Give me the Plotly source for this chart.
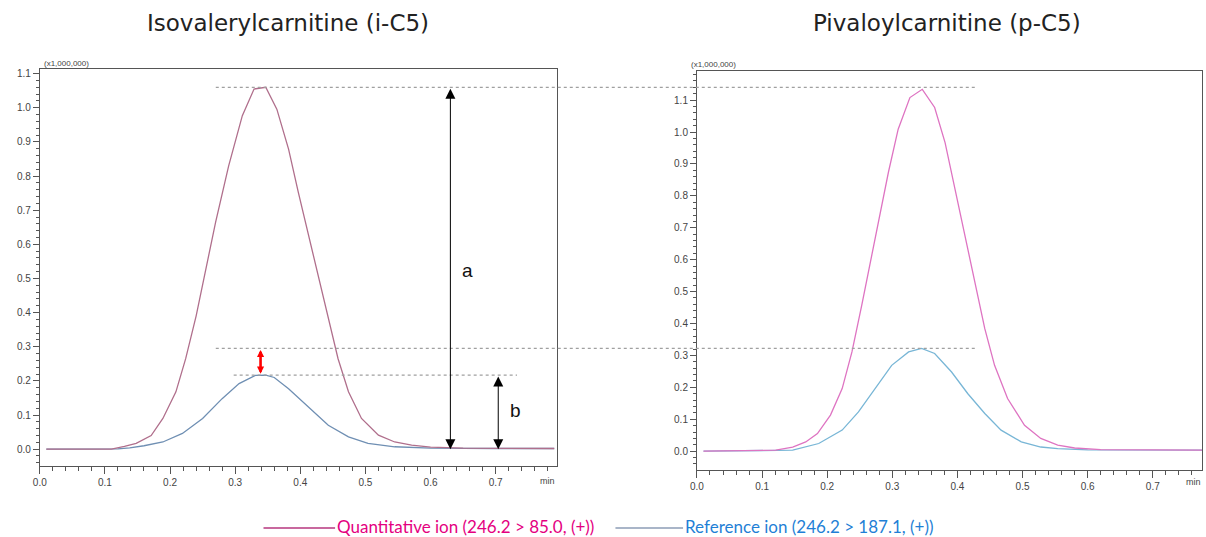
import plotly.graph_objects as go

# ---------------- data (intensity x1,000,000 vs time, min) ----------------
iso_quant_t = [0.01, 0.11, 0.13, 0.148, 0.171, 0.189, 0.209, 0.224, 0.24, 0.255, 0.27, 0.29, 0.311,
               0.329, 0.347, 0.364, 0.382, 0.397, 0.413, 0.428, 0.443, 0.458, 0.474, 0.494,
               0.52, 0.545, 0.571, 0.60, 0.65, 0.72, 0.79]
iso_quant_v = [0.0, 0.0, 0.008, 0.017, 0.04, 0.09, 0.168, 0.265, 0.39, 0.53, 0.665, 0.83, 0.977,
               1.055, 1.06, 0.996, 0.879, 0.752, 0.626, 0.499, 0.382, 0.265, 0.168, 0.09,
               0.041, 0.021, 0.012, 0.006, 0.003, 0.002, 0.002]
iso_ref_t = [0.01, 0.12, 0.138, 0.16, 0.189, 0.219, 0.25, 0.28, 0.306, 0.331, 0.347, 0.36,
             0.382, 0.413, 0.443, 0.474, 0.504, 0.545, 0.60, 0.70, 0.79]
iso_ref_v = [0.0, 0.001, 0.004, 0.01, 0.021, 0.046, 0.09, 0.148, 0.192, 0.216, 0.217, 0.21,
             0.177, 0.124, 0.07, 0.036, 0.017, 0.007, 0.003, 0.002, 0.002]

piv_quant_t = [0.01, 0.121, 0.147, 0.167, 0.185, 0.205, 0.223, 0.238, 0.253, 0.266, 0.279, 0.294,
               0.309, 0.327, 0.346, 0.365, 0.381, 0.396, 0.411, 0.426, 0.442, 0.457, 0.477,
               0.503, 0.528, 0.554, 0.58, 0.62, 0.70, 0.78]
piv_quant_v = [0.0, 0.003, 0.013, 0.029, 0.055, 0.113, 0.196, 0.311, 0.457, 0.592, 0.728, 0.874,
               1.009, 1.108, 1.134, 1.077, 0.967, 0.822, 0.676, 0.53, 0.384, 0.269, 0.165,
               0.081, 0.04, 0.019, 0.01, 0.005, 0.003, 0.003]
piv_ref_t = [0.01, 0.13, 0.147, 0.187, 0.223, 0.248, 0.274, 0.299, 0.325, 0.345, 0.365, 0.391,
             0.416, 0.442, 0.467, 0.498, 0.528, 0.554, 0.60, 0.70, 0.78]
piv_ref_v = [0.0, 0.001, 0.003, 0.024, 0.066, 0.123, 0.196, 0.269, 0.311, 0.322, 0.306, 0.248,
             0.18, 0.118, 0.066, 0.029, 0.013, 0.008, 0.004, 0.003, 0.003]

titles = ["Isovalerylcarnitine (i-C5)", "Pivaloylcarnitine (p-C5)"]
legend_names = ["Quantitative ion (246.2 &gt; 85.0, (+))", "Reference ion (246.2 &gt; 187.1, (+))"]

# ---------------- figure ----------------
fig = go.Figure()
fig.add_trace(go.Scatter(x=iso_ref_t, y=iso_ref_v, mode="lines", xaxis="x", yaxis="y",
                         line=dict(color="#6f8fb3", width=1.3), name=legend_names[1]))
fig.add_trace(go.Scatter(x=iso_quant_t, y=iso_quant_v, mode="lines", xaxis="x", yaxis="y",
                         line=dict(color="#b06f8c", width=1.3), name=legend_names[0]))
fig.add_trace(go.Scatter(x=piv_ref_t, y=piv_ref_v, mode="lines", xaxis="x2", yaxis="y2",
                         line=dict(color="#78b6d6", width=1.3), name=legend_names[1]))
fig.add_trace(go.Scatter(x=piv_quant_t, y=piv_quant_v, mode="lines", xaxis="x2", yaxis="y2",
                         line=dict(color="#de74c2", width=1.3), name=legend_names[0]))

axis_common = dict(showgrid=False, zeroline=False, showline=True, linecolor="#555555",
                   linewidth=1, mirror=True, ticks="outside", tickcolor="#555555",
                   tickwidth=1, tickformat=".1f", dtick=0.1, tick0=0,
                   tickfont=dict(family="Liberation Sans, Arial", size=10, color="#444444"))

xa = dict(axis_common, ticklen=7,
          minor=dict(dtick=0.02, ticks="outside", ticklen=4, tickcolor="#555555"))
ya = dict(axis_common, ticklen=6,
          minor=dict(dtick=0.02, ticks="outside", ticklen=3, tickcolor="#555555"))

fig.update_layout(
    width=1206, height=537, margin=dict(l=0, r=0, t=0, b=0),
    paper_bgcolor="white", plot_bgcolor="white", showlegend=False,
    xaxis=dict(xa, domain=[33 / 1206, 553 / 1206], range=[0, 0.7939], anchor="y"),
    yaxis=dict(ya, domain=[1 - 466 / 537, 1 - 68 / 537], range=[-0.0497, 1.114], anchor="x"),
    xaxis2=dict(xa, domain=[694 / 1206, 1202 / 1206], range=[0, 0.7756], anchor="y2"),
    yaxis2=dict(ya, domain=[1 - 470 / 537, 1 - 70 / 537], range=[-0.0594, 1.1917], anchor="x2"),
)

iso_q_peak = max(iso_quant_v)
iso_r_peak = max(iso_ref_v)
piv_r_peak = max(piv_ref_v)
iso_peak_t = iso_quant_t[iso_quant_v.index(iso_q_peak)]
# level of the pivaloyl reference peak expressed on the left axis (drawn line at same height)
piv_r_level_left = 0.295

dash = dict(color="#a0a0a0", width=1.2, dash="dot")
shapes = [
    dict(type="line", xref="paper", yref="y", x0=210 / 1206, x1=975 / 1206,
         y0=iso_q_peak, y1=iso_q_peak, line=dash),
    dict(type="line", xref="paper", yref="y2", x0=210 / 1206, x1=975 / 1206,
         y0=piv_r_peak, y1=piv_r_peak, line=dash),
    dict(type="line", xref="paper", yref="y", x0=228 / 1206, x1=513 / 1206,
         y0=iso_r_peak, y1=iso_r_peak, line=dash),
    # legend samples
    dict(type="line", xref="paper", yref="paper", x0=258 / 1206, x1=330 / 1206,
         y0=1 - 528 / 537, y1=1 - 528 / 537, line=dict(color="#c8689e", width=2)),
    dict(type="line", xref="paper", yref="paper", x0=612 / 1206, x1=680 / 1206,
         y0=1 - 528 / 537, y1=1 - 528 / 537, line=dict(color="#a9b5c8", width=2)),
]
fig.update_layout(shapes=shapes)

ann = []
# arrows
ann.append(dict(xref="x", yref="y", axref="x", ayref="y", x=0.6305, y=0, ax=0.6305, ay=iso_q_peak,
                text="", showarrow=True, arrowhead=2, arrowside="end+start", arrowsize=2,
                arrowwidth=1, arrowcolor="#000000"))
ann.append(dict(xref="x", yref="y", axref="x", ayref="y", x=0.704, y=0, ax=0.704, ay=iso_r_peak,
                text="", showarrow=True, arrowhead=2, arrowside="end+start", arrowsize=2,
                arrowwidth=1, arrowcolor="#000000"))
ann.append(dict(xref="x", yref="y", axref="x", ayref="y", x=iso_peak_t - 0.008, y=iso_r_peak + 0.004,
                ax=iso_peak_t - 0.008, ay=piv_r_level_left,
                text="", showarrow=True, arrowhead=2, arrowside="end+start", arrowsize=0.55,
                arrowwidth=2.6, arrowcolor="#ff0000"))
ann.append(dict(xref="x", yref="y", x=0.657, y=0.523, text="a", showarrow=False,
                font=dict(family="Liberation Sans, Arial", size=19, color="#111111")))
ann.append(dict(xref="x", yref="y", x=0.731, y=0.114, text="b", showarrow=False,
                font=dict(family="Liberation Sans, Arial", size=19, color="#111111")))
# titles
ann.append(dict(xref="paper", yref="paper", x=283 / 1206, y=1 - 22 / 537, text=titles[0],
                xanchor="center", yanchor="middle",
                showarrow=False, font=dict(family="DejaVu Sans", size=23, color="#222222")))
ann.append(dict(xref="paper", yref="paper", x=945 / 1206, y=1 - 22 / 537, text=titles[1],
                xanchor="center", yanchor="middle",
                showarrow=False, font=dict(family="DejaVu Sans", size=23, color="#222222")))
# scale labels
small = dict(family="Liberation Sans, Arial", size=8, color="#444444")
for xp, yp in [(35, 63), (686, 64)]:
    ann.append(dict(xref="paper", yref="paper", x=xp / 1206, y=1 - yp / 537, text="(x1,000,000)",
                    showarrow=False, xanchor="left", yanchor="middle", font=small))
for xp, yp in [(553, 481), (1203, 482)]:
    ann.append(dict(xref="paper", yref="paper", x=xp / 1206, y=1 - yp / 537, text="min",
                    showarrow=False, xanchor="right", yanchor="middle", font=dict(small, size=9)))
# legend texts
ann.append(dict(xref="paper", yref="paper", x=331 / 1206, y=1 - 526 / 537, xanchor="left",
                yanchor="middle", text=legend_names[0], showarrow=False, borderpad=0,
                font=dict(family="Lato", size=17, color="#e4007f")))
ann.append(dict(xref="paper", yref="paper", x=681 / 1206, y=1 - 526 / 537, xanchor="left",
                yanchor="middle", text=legend_names[1], showarrow=False, borderpad=0,
                font=dict(family="Lato", size=17, color="#1f7fd6")))
fig.update_layout(annotations=ann)

fig.write_html("out.html", config={"displayModeBar": False},
               post_script="document.body.style.margin='0';document.body.style.overflow='hidden';")
